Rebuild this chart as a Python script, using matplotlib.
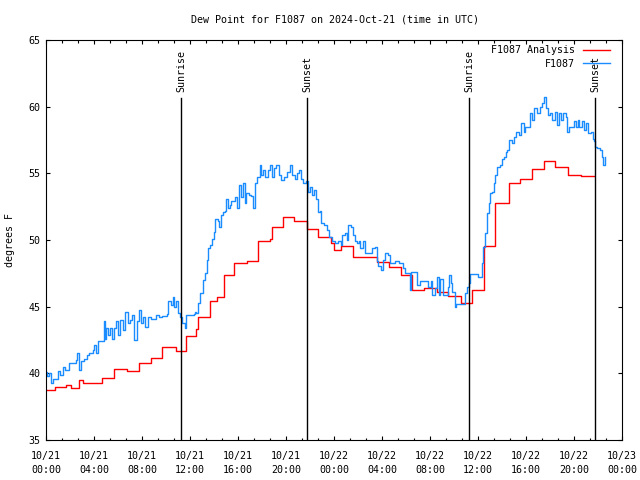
import matplotlib
matplotlib.use('Agg')
import matplotlib.pyplot as plt
import pandas as pd

# hours after 2024-10-21 00:00 UTC
blue_hours = [0.0, 0.1, 0.25, 0.4, 0.6, 0.9, 1.0, 1.2, 1.4, 1.6, 1.9, 2.2, 2.5, 2.6, 2.75, 2.95,
              3.2, 3.4, 3.6, 3.9, 4.0, 4.15, 4.3, 4.55, 4.8, 4.9, 5.0, 5.2, 5.35, 5.5, 5.7, 5.85,
              6.0, 6.2, 6.4, 6.6, 6.8, 7.0, 7.2, 7.35, 7.55, 7.75, 7.95, 8.1, 8.25, 8.5, 8.75,
              9.2, 9.45, 9.7, 10.05, 10.2, 10.4, 10.55, 10.7, 10.85, 11.0, 11.2, 11.35, 11.55,
              11.7, 12.0, 12.3, 12.4, 12.5, 12.7, 12.8, 12.95, 13.1, 13.25, 13.4, 13.5, 13.7,
              13.85, 14.0, 14.1, 14.3, 14.45, 14.6, 14.75, 14.9, 15.0, 15.2, 15.3, 15.45, 15.75,
              15.95, 16.1, 16.25, 16.45, 16.6, 16.7, 16.9, 17.1, 17.25, 17.4, 17.6, 17.8, 17.95,
              18.1, 18.25, 18.5, 18.7, 18.85, 19.0, 19.2, 19.4, 19.6, 19.8, 20.1, 20.3, 20.5,
              20.75, 20.9, 21.1, 21.25, 21.45, 21.65, 21.8, 22.0, 22.15, 22.35, 22.5, 22.65,
              22.8, 22.95, 23.15, 23.4, 23.6, 23.8, 23.95, 24.1, 24.35, 24.55, 24.7, 24.9,
              25.05, 25.2, 25.4, 25.55, 25.75, 25.95, 26.1, 26.2, 26.4, 26.6, 26.85, 27.15,
              27.4, 27.55, 27.7, 27.9, 28.05, 28.25, 28.5, 28.7, 28.9, 29.1, 29.4, 29.6, 29.75,
              29.95, 30.15, 30.3, 30.45, 30.65, 30.85, 30.95, 31.15, 31.35, 31.65, 31.85, 32.05,
              32.2, 32.4, 32.6, 32.75, 32.85, 33.05, 33.25, 33.5, 33.6, 33.75, 33.85, 34.1,
              34.2, 34.5, 34.85, 34.95, 35.1, 35.25, 35.3, 35.6, 35.9, 36.0, 36.25, 36.35,
              36.45, 36.6, 36.75, 36.9, 37.0, 37.15, 37.3, 37.45, 37.6, 37.8, 38.0, 38.2, 38.3,
              38.45, 38.6, 38.8, 39.0, 39.2, 39.4, 39.6, 39.8, 39.95, 40.15, 40.3, 40.5, 40.7,
              40.95, 41.15, 41.35, 41.5, 41.65, 41.8, 42.0, 42.2, 42.4, 42.55, 42.75, 42.95,
              43.1, 43.3, 43.45, 43.6, 43.9, 44.0, 44.2, 44.3, 44.45, 44.65, 44.8, 45.0, 45.2,
              45.4, 45.55, 45.7, 45.75, 45.95, 46.15, 46.3, 46.45, 46.55]
blue_vals = [40.1, 39.8, 40.0, 39.25, 39.55, 39.55, 40.2, 39.9, 40.5, 40.25, 40.75, 40.8, 41.0,
             41.5, 40.25, 40.9, 41.1, 41.4, 41.5, 41.75, 42.1, 41.5, 42.4, 42.4, 43.9, 42.6,
             43.4, 42.9, 43.4, 42.6, 43.4, 43.9, 42.9, 44.0, 43.25, 44.6, 43.75, 44.0, 44.4,
             42.5, 43.9, 44.75, 43.75, 44.25, 43.5, 44.2, 44.1, 44.4, 44.25, 44.3, 44.45, 45.4,
             45.1, 45.75, 45.0, 45.4, 44.5, 44.25, 43.75, 43.4, 44.4, 44.4, 44.45, 44.6, 44.55,
             45.25, 46.0, 46.05, 47.0, 47.5, 48.5, 49.4, 49.6, 50.1, 50.6, 51.6, 51.4, 51.0,
             51.9, 52.1, 52.15, 53.1, 52.4, 52.65, 52.9, 53.2, 52.4, 54.1, 53.25, 54.25, 52.75,
             53.5, 53.4, 53.3, 52.4, 54.25, 54.75, 55.6, 54.9, 55.25, 54.75, 55.25, 55.6, 54.75,
             55.4, 55.6, 54.9, 54.5, 54.75, 55.1, 55.6, 54.9, 54.6, 55.0, 55.25, 54.6, 54.25,
             54.45, 53.6, 54.0, 53.4, 53.75, 53.1, 52.1, 52.2, 51.25, 51.15, 50.75, 50.25, 49.9,
             49.9, 49.75, 49.9, 49.6, 50.4, 50.5, 50.0, 51.1, 51.0, 50.4, 49.9, 49.75, 49.9,
             49.4, 49.9, 49.0, 49.05, 49.4, 49.5, 48.4, 48.05, 47.75, 48.5, 49.0, 48.9, 48.25,
             48.25, 48.4, 48.3, 48.25, 47.9, 47.5, 47.5, 46.25, 47.6, 47.6, 47.6, 46.6, 46.9,
             46.9, 46.9, 46.5, 46.9, 45.9, 46.4, 47.25, 45.9, 47.1, 45.9, 45.9, 46.5, 47.4,
             46.75, 46.1, 45.0, 45.2, 45.2, 45.2, 46.0, 46.5, 46.75, 47.45, 47.45, 47.45, 47.25,
             47.25, 48.25, 49.5, 50.5, 52.0, 52.75, 53.5, 53.6, 54.25, 54.9, 55.45, 55.6, 56.1,
             56.25, 56.6, 56.75, 57.5, 57.3, 57.75, 58.1, 57.85, 58.75, 58.1, 58.5, 58.5, 59.5,
             59.0, 59.9, 59.5, 60.0, 60.25, 60.75, 59.9, 59.4, 59.5, 59.0, 59.6, 58.6, 59.5,
             59.0, 59.5, 59.25, 58.1, 58.5, 58.5, 58.9, 58.5, 59.0, 58.5, 58.9, 58.25, 58.75,
             58.0, 58.1, 57.6, 57.4, 57.0, 56.9, 56.75, 56.25, 55.6, 56.25]

red_hours = [0.0, 0.75, 1.7, 2.1, 2.75, 3.1, 4.7, 5.7, 6.75, 7.75, 8.75, 9.7, 10.8, 11.7, 12.5,
             12.7, 13.7, 14.25, 14.8, 15.7, 16.75, 17.7, 18.7, 18.85, 19.75, 20.7, 21.75, 22.7,
             23.75, 24.0, 24.55, 25.55, 26.7, 27.55, 28.6, 29.55, 30.5, 31.5, 32.55, 33.5, 34.6,
             35.5, 36.5, 37.45, 38.55, 39.5, 40.5, 41.5, 42.4, 43.5, 44.6, 45.67]
red_vals = [38.75, 39.0, 39.1, 38.9, 39.5, 39.25, 39.65, 40.3, 40.2, 40.8, 41.15, 41.95, 41.65,
            42.8, 43.3, 44.2, 45.4, 45.7, 47.4, 48.25, 48.4, 49.9, 50.1, 50.95, 51.7, 51.4, 50.8,
            50.2, 49.75, 49.25, 49.55, 48.75, 48.7, 48.35, 47.95, 47.4, 46.25, 46.4, 46.1, 45.8,
            45.25, 46.25, 49.55, 52.75, 54.25, 54.6, 55.3, 55.9, 55.45, 54.9, 54.8, 54.8]

sun_times = ['2024-10-21 11:15', '2024-10-21 21:45', '2024-10-22 11:15', '2024-10-22 21:45']
sun_labels = ['Sunrise', 'Sunset', 'Sunrise', 'Sunset']

t0 = pd.Timestamp('2024-10-21 00:00')
tick_times = [t0 + pd.Timedelta(hours=h) for h in range(0, 49, 4)]
tick_labels = [t.strftime('%m/%d\n%H:%M') for t in tick_times]

FONT = 'DejaVu Sans Mono'
FS = 7.2


def main():
    plt.rcParams['font.family'] = FONT
    plt.rcParams['font.size'] = FS

    fig = plt.figure(figsize=(6.4, 4.8), dpi=100)
    ax = fig.add_axes([46 / 640, 40 / 480, 576 / 640, 400 / 480])

    bt = t0 + pd.to_timedelta(blue_hours, unit='h')
    rt = t0 + pd.to_timedelta(red_hours, unit='h')
    ax.plot(rt, red_vals, color='#ff0000', lw=1.0, drawstyle='steps-post', label='F1087 Analysis')
    ax.plot(bt, blue_vals, color='#1a8cff', lw=1.0, drawstyle='steps-post', label='F1087')

    # sunrise / sunset markers
    for st, lab in zip(sun_times, sun_labels):
        t = pd.Timestamp(st)
        ax.plot([t, t], [35, 60.65], color='black', lw=1.0)
        ax.text(t, 61.1, lab, rotation=90, ha='center', va='bottom', fontsize=FS)

    ax.set_xlim(t0, t0 + pd.Timedelta(hours=48))
    ax.set_ylim(35, 65)
    ax.set_xticks(tick_times)
    labs = ax.set_xticklabels(tick_labels)
    for l in labs:
        l.set_linespacing(1.5)
    minor = [t0 + pd.Timedelta(minutes=80 * k) for k in range(37) if k % 3 != 0]
    ax.set_xticks(minor, minor=True)
    ax.set_yticks([35, 40, 45, 50, 55, 60, 65])

    ax.tick_params(which='both', direction='in', top=True, right=True, width=0.8)
    ax.tick_params(which='major', length=3.0)
    ax.tick_params(which='minor', length=1.8)
    ax.tick_params(axis='x', pad=8)
    ax.tick_params(axis='y', pad=4)
    for s in ax.spines.values():
        s.set_linewidth(0.8)

    fig.text(335 / 640, 1 - 20 / 480, 'Dew Point for F1087 on 2024-Oct-21 (time in UTC)',
             ha='center', va='center', fontsize=FS)
    fig.text(10 / 640, 0.5, 'degrees F', rotation=90, ha='center', va='center', fontsize=FS)

    ax.legend(loc='upper right', bbox_to_anchor=(0.979, 0.987), frameon=False,
              markerfirst=False, borderpad=0, borderaxespad=0, handlelength=2.7,
              handletextpad=0.8, labelspacing=0.35, fontsize=FS)

    fig.savefig('out.png', dpi=100)


if __name__ == "__main__":
    main()
